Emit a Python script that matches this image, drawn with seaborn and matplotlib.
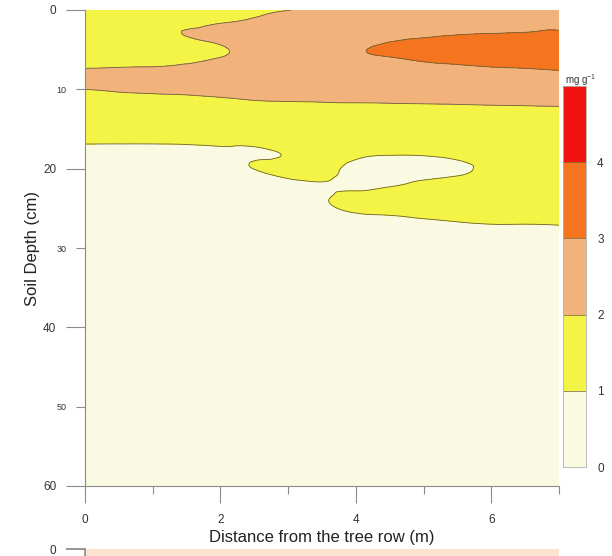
import numpy as np
import matplotlib
matplotlib.use("Agg")
import matplotlib.pyplot as plt
import matplotlib.tri as mtri
import seaborn as sns

# Sampling grid: distance from the tree row (m) and soil depth (cm)
distance_m = [0, 0.5, 1, 1.5, 2, 2.5, 3, 3.5, 4, 4.5, 5, 5.5, 6, 6.5, 7]
depth_cm = [0, 1.5, 3, 4.5, 6, 7.5, 9, 10.5, 12, 13.5, 15, 16.5, 18, 19.5,
            21, 22.5, 24, 25.5, 27, 28.5, 30, 40, 50, 60]

# Concentration (mg g-1): one row per depth, one column per distance
conc = [
    [1.55, 1.60, 1.65, 1.70, 1.78, 1.88, 1.99, 2.15, 2.30, 2.40, 2.50, 2.60, 2.65, 2.70, 2.75],
    [1.60, 1.65, 1.72, 1.78, 1.96, 2.08, 2.25, 2.35, 2.50, 2.60, 2.70, 2.78, 2.82, 2.86, 2.90],
    [1.65, 1.70, 1.80, 2.03, 2.20, 2.30, 2.45, 2.55, 2.72, 2.84, 2.90, 2.97, 3.01, 3.04, 3.06],
    [1.72, 1.76, 1.82, 1.80, 1.98, 2.30, 2.55, 2.70, 2.93, 3.04, 3.15, 3.25, 3.35, 3.40, 3.45],
    [1.82, 1.85, 1.88, 1.90, 2.005, 2.30, 2.55, 2.70, 2.92, 2.99, 3.08, 3.15, 3.25, 3.30, 3.35],
    [2.02, 2.04, 2.06, 2.10, 2.20, 2.35, 2.50, 2.60, 2.75, 2.80, 2.85, 2.90, 2.94, 2.97, 3.02],
    [2.10, 2.15, 2.20, 2.25, 2.30, 2.38, 2.45, 2.50, 2.60, 2.62, 2.65, 2.68, 2.70, 2.72, 2.75],
    [1.92, 1.97, 2.01, 2.04, 2.10, 2.20, 2.25, 2.28, 2.32, 2.35, 2.38, 2.40, 2.42, 2.44, 2.46],
    [1.60, 1.65, 1.70, 1.75, 1.80, 1.85, 1.88, 1.90, 1.92, 1.93, 1.95, 1.97, 2.00, 2.02, 2.04],
    [1.35, 1.38, 1.40, 1.42, 1.45, 1.50, 1.55, 1.58, 1.60, 1.60, 1.62, 1.63, 1.65, 1.66, 1.67],
    [1.20, 1.20, 1.20, 1.22, 1.25, 1.30, 1.35, 1.38, 1.38, 1.38, 1.38, 1.40, 1.42, 1.43, 1.44],
    [1.04, 1.04, 1.04, 1.05, 1.08, 1.12, 1.20, 1.22, 1.20, 1.18, 1.18, 1.20, 1.24, 1.27, 1.28],
    [0.90, 0.90, 0.90, 0.91, 0.94, 0.95, 1.03, 1.12, 1.06, 1.03, 1.04, 1.08, 1.13, 1.16, 1.18],
    [0.80, 0.80, 0.81, 0.83, 0.87, 1.02, 1.07, 1.10, 0.95, 0.90, 0.90, 0.96, 1.05, 1.12, 1.14],
    [0.72, 0.72, 0.73, 0.75, 0.80, 0.90, 1.03, 1.06, 0.88, 0.88, 0.95, 1.01, 1.10, 1.14, 1.15],
    [0.66, 0.66, 0.67, 0.68, 0.72, 0.80, 0.88, 0.96, 0.96, 1.03, 1.12, 1.18, 1.20, 1.20, 1.20],
    [0.60, 0.61, 0.62, 0.63, 0.66, 0.72, 0.78, 0.97, 1.10, 1.15, 1.20, 1.22, 1.22, 1.20, 1.20],
    [0.56, 0.57, 0.58, 0.59, 0.62, 0.66, 0.70, 0.90, 1.01, 1.04, 1.10, 1.12, 1.13, 1.12, 1.12],
    [0.53, 0.54, 0.55, 0.56, 0.58, 0.62, 0.65, 0.80, 0.88, 0.92, 0.93, 0.97, 1.00, 1.00, 1.01],
    [0.50, 0.51, 0.52, 0.53, 0.55, 0.58, 0.60, 0.70, 0.76, 0.80, 0.83, 0.85, 0.87, 0.88, 0.89],
    [0.48, 0.49, 0.50, 0.51, 0.52, 0.55, 0.57, 0.64, 0.68, 0.72, 0.75, 0.77, 0.79, 0.80, 0.81],
    [0.40, 0.40, 0.40, 0.41, 0.42, 0.43, 0.44, 0.45, 0.46, 0.47, 0.48, 0.49, 0.50, 0.50, 0.50],
    [0.35, 0.35, 0.35, 0.35, 0.36, 0.37, 0.37, 0.38, 0.38, 0.39, 0.39, 0.40, 0.40, 0.40, 0.40],
    [0.30, 0.30, 0.30, 0.30, 0.30, 0.30, 0.30, 0.30, 0.30, 0.30, 0.30, 0.30, 0.30, 0.30, 0.30],
]

levels = [0, 1, 2, 3, 4, 5]
fill_colors = ["#FAF9E1", "#F4F447", "#F2B27C", "#F5741F", "#F21212"]
line_color = "#6E6234"
x_major = [0, 2, 4, 6]
x_minor = [1, 3, 5, 7]
y_major = [0, 20, 40, 60]
y_minor = [10, 30, 50]
cbar_ticks = [0, 1, 2, 3, 4]

sns.set_theme(style="ticks")
plt.rcParams["font.family"] = ["Liberation Sans", "DejaVu Sans"]
plt.rcParams["mathtext.default"] = "regular"

fig = plt.figure(figsize=(6.12, 5.56), dpi=100)
ax = fig.add_axes([85 / 612, 1 - 486 / 556, 474 / 612, 476 / 556])

# Smooth the gridded field with a cubic interpolator on a refined mesh
X, D = np.meshgrid(distance_m, depth_cm)
Z = np.asarray(conc, dtype=float)
ny, nx = Z.shape
idx = np.arange(ny * nx).reshape(ny, nx)
a, b = idx[:-1, :-1].ravel(), idx[:-1, 1:].ravel()
c, d = idx[1:, :-1].ravel(), idx[1:, 1:].ravel()
triangles = np.concatenate([np.stack([a, b, d], 1), np.stack([a, d, c], 1)])
yscale = 3.0
base = mtri.Triangulation(X.ravel(), D.ravel() / yscale, triangles)
interp = mtri.CubicTriInterpolator(base, Z.ravel(), kind="min_E")
fine, zf = mtri.UniformTriRefiner(base).refine_field(Z.ravel(), triinterpolator=interp, subdiv=4)
fine = mtri.Triangulation(fine.x, fine.y * yscale, fine.triangles)

cs = ax.tricontourf(fine, zf, levels=levels, colors=fill_colors)
cl = ax.tricontour(fine, zf, levels=[1, 2, 3, 4], colors=line_color, linewidths=0.6)

ax.set_xlim(0, 7)
ax.set_ylim(60, 0)
ax.set_xticks(x_major)
ax.set_xticks(x_minor, minor=True)
ax.set_yticks(y_major)
ax.set_yticks(y_minor, minor=True)
ax.set_yticklabels([str(v) for v in y_minor], minor=True, fontsize=6.5)
ax.tick_params(axis="both", which="both", direction="out", color="#8a8a8a",
               width=0.8, labelcolor="#333333", bottom=True, left=True)
ax.tick_params(axis="y", which="major", length=13.7, pad=7, labelsize=8.5)
ax.tick_params(axis="y", which="minor", length=6.5, pad=7)
ax.tick_params(axis="x", which="major", length=12, pad=8, labelsize=8.5)
ax.tick_params(axis="x", which="minor", length=5.5)
for side in ("top", "right"):
    ax.spines[side].set_visible(False)
for side in ("left", "bottom"):
    ax.spines[side].set_color("#8a8a8a")
    ax.spines[side].set_linewidth(0.8)
ax.set_xlabel("Distance from the tree row (m)", fontsize=12, color="#222222", labelpad=3)
ax.set_ylabel("Soil Depth (cm)", fontsize=12, color="#222222", labelpad=2)

# Colour key
cax = fig.add_axes([563 / 612, 1 - 467 / 556, 23 / 612, 381 / 556])
cb = fig.colorbar(cs, cax=cax, ticks=cbar_ticks)
cb.add_lines(cl)
for coll in cax.collections[1:]:
    coll.set_linewidth(0.5)
cb.outline.set_edgecolor("#b0b0b0")
cb.outline.set_linewidth(0.6)
cax.tick_params(length=0, pad=8, labelsize=8.5, labelcolor="#333333")
fig.text(565 / 612, 1 - 80 / 556, "mg g$^{-1}$", fontsize=7, color="#333333",
         ha="left", va="center")

# Top edge of the panel that follows
ax2 = fig.add_axes([85 / 612, -0.4, 474 / 612, 0.4 + 7 / 556])
ax2.set_facecolor("#FBE3D0")
ax2.set_xlim(0, 7)
ax2.set_ylim(60, 0)
ax2.set_xticks([])
ax2.set_yticks([0])
ax2.tick_params(axis="y", direction="out", length=13.7, pad=7, labelsize=8.5,
                color="#8a8a8a", labelcolor="#333333", left=True)
for side in ("top", "right", "bottom"):
    ax2.spines[side].set_visible(False)
ax2.spines["left"].set_color("#8a8a8a")

fig.savefig("out.png", dpi=100)
